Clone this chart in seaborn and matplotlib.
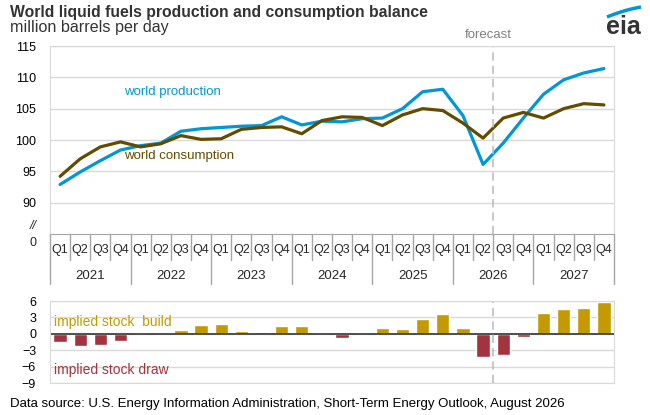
import numpy as np
import pandas as pd
import matplotlib.pyplot as plt
import matplotlib.transforms as mtransforms
from matplotlib.lines import Line2D
import seaborn as sns

# quarterly values, 2021Q1 .. 2027Q4 (million barrels per day)
years = ['2021', '2022', '2023', '2024', '2025', '2026', '2027']
quarters = ['Q1', 'Q2', 'Q3', 'Q4']
production = [92.9, 94.9, 96.7, 98.4, 99.1, 99.5, 101.4, 101.8,
              102.0, 102.2, 102.3, 103.7, 102.4, 103.0, 102.9, 103.4,
              103.5, 105.0, 107.7, 108.1, 103.9, 96.1, 99.5, 103.5,
              107.3, 109.6, 110.7, 111.4]
consumption = [94.2, 97.0, 98.9, 99.7, 98.9, 99.4, 100.7, 100.1,
               100.2, 101.7, 102.0, 102.1, 101.0, 103.1, 103.7, 103.6,
               102.3, 104.0, 105.0, 104.7, 102.7, 100.3, 103.5, 104.4,
               103.5, 105.0, 105.8, 105.6]
stock_change = [-1.5, -2.2, -2.1, -1.4, 0.1, 0.0, 0.7, 1.6,
                1.75, 0.5, 0.25, 1.45, 1.5, 0.0, -0.7, 0.05,
                1.1, 0.95, 2.7, 3.6, 1.0, -4.2, -3.8, -0.6,
                3.8, 4.5, 4.8, 5.8]

BLUE = '#0096d7'
BROWN = '#634c00'
GOLD = '#c49a00'
RED = '#a3333f'
GRID = '#d9d9d9'
TXT = '#333333'

sns.set_style('white')
plt.rcParams['font.family'] = ['Liberation Sans', 'DejaVu Sans']

n = len(production)
df = pd.DataFrame({'idx': np.arange(n), 'production': production,
                   'consumption': consumption, 'stock': stock_change})
df['sign'] = np.where(df['stock'] >= 0, 'build', 'draw')

W, H = 650, 415
fig = plt.figure(figsize=(6.5, 4.15), dpi=100)


def box(left, top, right, bottom):
    return [left / W, 1 - bottom / H, (right - left) / W, (bottom - top) / H]


# top panel: production vs consumption
ax = fig.add_axes(box(50, 46, 614, 234))
sns.lineplot(data=df, x='idx', y='production', color=BLUE, lw=2.3, ax=ax)
sns.lineplot(data=df, x='idx', y='consumption', color=BROWN, lw=2.3, ax=ax)
ax.set_xlim(-0.5, n - 0.5)
ax.set_ylim(85, 115)
ax.set_yticks(range(90, 116, 5))
ax.set_xticks([])
ax.set_xlabel('')
ax.set_ylabel('')
ax.grid(axis='y', color=GRID, lw=1)
ax.tick_params(axis='y', length=0, pad=10, labelsize=9, labelcolor='black')
for s in ['top', 'right', 'left']:
    ax.spines[s].set_color(GRID)
ax.spines['bottom'].set_color('#a6a6a6')
ax.axvline(21.5, color='#bfbfbf', ls=(0, (5, 3)), lw=1.2)

ax.text(124 / W, 1 - 92 / H, 'world production', transform=fig.transFigure,
        color=BLUE, fontsize=9.5, va='center')
ax.text(124 / W, 1 - 156 / H, 'world consumption', transform=fig.transFigure,
        color=BROWN, fontsize=9.5, va='center')

# axis break and zero label
fig.text(37 / W, 1 - 226 / H, '//', fontsize=9, ha='right', va='center',
         style='italic')
fig.text(37 / W, 1 - 243 / H, '0', fontsize=9, ha='right', va='center')

# quarter / year labels under the top panel
trans = mtransforms.blended_transform_factory(ax.transData, ax.transAxes)
hpx = 188.0
for i in range(n):
    ax.text(i, -16 / hpx, quarters[i % 4], transform=trans, ha='center',
            va='center', fontsize=9)
for k in range(n + 1):
    low = -50 / hpx if k % 4 == 0 else -26 / hpx
    ax.add_line(Line2D([k - 0.5, k - 0.5], [0, low], transform=trans,
                       color='#a6a6a6', lw=1, clip_on=False))
for j, y in enumerate(years):
    ax.text(4 * j + 1.5, -42 / hpx, y, transform=trans, ha='center',
            va='center', fontsize=9.5)

# bottom panel: implied stock change
ax2 = fig.add_axes(box(50, 301, 614, 383))
sns.barplot(data=df, x='idx', y='stock', hue='sign',
            palette={'build': GOLD, 'draw': RED}, width=0.66, dodge=False,
            saturation=1, legend=False, ax=ax2)
ax2.set_xlim(-0.5, n - 0.5)
ax2.set_ylim(-9, 6)
ax2.set_yticks([-9, -6, -3, 0, 3, 6])
ax2.set_xticks([])
ax2.set_xlabel('')
ax2.set_ylabel('')
ax2.grid(axis='y', color=GRID, lw=1)
ax2.set_axisbelow(True)
ax2.tick_params(axis='y', length=0, pad=10, labelsize=9, labelcolor='black')
for s in ax2.spines.values():
    s.set_color(GRID)
ax2.axhline(0, color='#333333', lw=1.2)
ax2.axvline(21.5, color='#bfbfbf', ls=(0, (5, 3)), lw=1.2)
fig.text(54 / W, 1 - 322 / H, 'implied stock  build', color=GOLD,
         fontsize=10, va='center')
fig.text(54 / W, 1 - 370 / H, 'implied stock draw', color=RED,
         fontsize=10, va='center')

# titles and notes
fig.text(10 / W, 1 - 17 / H, 'World liquid fuels production and consumption balance',
         fontsize=11.3, fontweight='bold', color=TXT, va='baseline')
fig.text(10 / W, 1 - 32 / H, 'million barrels per day', fontsize=11.6,
         color=TXT, va='baseline')
fig.text(488 / W, 1 - 38 / H, 'forecast', fontsize=9.5, color='#808080',
         ha='center', va='baseline')
fig.text(10 / W, 1 - 404 / H,
         'Data source: U.S. Energy Information Administration, Short-Term Energy Outlook, August 2026',
         fontsize=9.5, color='black', va='center')

# eia logo
fig.text(623 / W, 1 - 34 / H, 'eia', fontsize=18, fontweight='bold',
         color=TXT, ha='center', va='baseline')
t = np.linspace(0, 1, 30)
arc_x = (607 + 34 * t) / W
arc_y = 1 - (17 - 14 * t + 4 * t ** 2) / H
fig.add_artist(Line2D(arc_x, arc_y, color=BLUE, lw=2.5,
                      solid_capstyle='butt'))

fig.savefig('out.png', dpi=100)
plt.close(fig)
